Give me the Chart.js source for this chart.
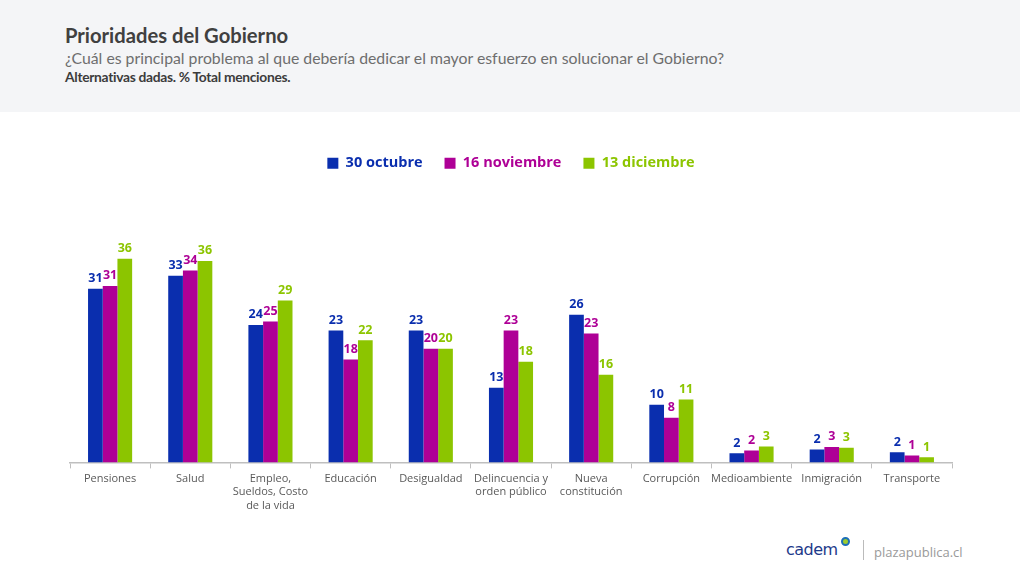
<!DOCTYPE html>
<html>
<head>
<meta charset="utf-8">
<script src="https://cdn.jsdelivr.net/npm/chart.js@4.4.0/dist/chart.umd.min.js"></script>
<style>
  html, body { margin:0; padding:0; background:#fff; }
  body { width:1020px; height:572px; position:relative; overflow:hidden; font-family:"Open Sans", "Noto Sans", sans-serif; }
  .head { position:absolute; left:0; top:0; width:1020px; height:112px; background:#f4f5f7; font-family:Lato, "Open Sans", sans-serif; }
  .title { position:absolute; left:65px; top:23px; font-size:20.2px; font-weight:bold; color:#404040; }
  .sub { position:absolute; left:65px; top:48px; font-size:15.8px; color:#6e6e6e; }
  .note { position:absolute; left:65px; top:68px; font-size:13.8px; font-weight:bold; color:#3c3c3c; letter-spacing:-0.3px; }
  .wrap { position:absolute; left:0; top:130px; width:1020px; height:400px; }
  .foot { position:absolute; top:540px; left:786px; font-family:"DejaVu Sans", sans-serif; }
  .logo { position:absolute; left:0; top:0; font-size:16px; color:#1d3a8a; letter-spacing:-0.5px; }
  .dot { position:absolute; left:55px; top:-3px; width:9px; height:9px; border-radius:50%; border:2px solid #1d6fb8; background:#9ccc2e; box-sizing:border-box; }
  .sep { position:absolute; left:77px; top:0px; width:1px; height:20px; background:#bbb; }
  .site { position:absolute; left:88px; top:3px; font-size:13px; color:#9a9a9a; font-family:"Open Sans", sans-serif; }
</style>
</head>
<body>
<div class="head">
  <div class="title">Prioridades del Gobierno</div>
  <div class="sub">¿Cuál es principal problema al que debería dedicar el mayor esfuerzo en solucionar el Gobierno?</div>
  <div class="note">Alternativas dadas. % Total menciones.</div>
</div>
<div class="wrap"><canvas id="c"></canvas></div>
<div class="foot">
  <div class="logo">cadem</div><div class="dot"></div>
  <div class="sep"></div>
  <div class="site">plazapublica.cl</div>
</div>
<script>
const categories = [
  'Pensiones', 'Salud', ['Empleo,', 'Sueldos, Costo', 'de la vida'], 'Educación', 'Desigualdad',
  ['Delincuencia y', 'orden público'], ['Nueva', 'constitución'], 'Corrupción', 'Medioambiente', 'Inmigración', 'Transporte'
];
const seriesNames = ['30 octubre', '16 noviembre', '13 diciembre'];
const seriesColors = ['#0a2eae', '#ae0096', '#8cc500'];
// bar heights; labels show the rounded value
const octubre   = [30.7, 33.0, 24.3, 23.3, 23.3, 13.2, 26.1, 10.2, 1.6, 2.3, 1.8];
const noviembre = [31.2, 33.9, 24.9, 18.2, 20.1, 23.3, 22.8, 7.9, 2.1, 2.7, 1.2];
const diciembre = [36.0, 35.6, 28.6, 21.6, 20.1, 17.8, 15.5, 11.1, 2.8, 2.6, 0.9];

const valueLabels = {
  id: 'valueLabels',
  afterDatasetsDraw(chart){
    const ctx = chart.ctx;
    ctx.save();
    ctx.font = 'bold 12.5px "Open Sans", sans-serif';
    ctx.textAlign = 'center';
    ctx.textBaseline = 'bottom';
    chart.data.datasets.forEach((ds, i) => {
      ctx.fillStyle = ds.backgroundColor;
      chart.getDatasetMeta(i).data.forEach((bar, j) => {
        ctx.fillText(Math.round(ds.data[j]), bar.x, bar.y - 4);
      });
    });
    ctx.restore();
  }
};

// extra space under the legend
const legendMargin = {
  id: 'legendMargin',
  beforeInit(chart){
    const fit = chart.legend.fit;
    chart.legend.fit = function(){ fit.bind(chart.legend)(); this.height += 16; };
  }
};

new Chart(document.getElementById('c'), {
  type: 'bar',
  data: {
    labels: categories,
    datasets: [octubre, noviembre, diciembre].map((d, i) => ({
      label: seriesNames[i],
      data: d,
      backgroundColor: seriesColors[i],
      barPercentage: 1,
      categoryPercentage: 0.55
    }))
  },
  options: {
    responsive: true,
    maintainAspectRatio: false,
    animation: false,
    layout: { padding: { left: 70, right: 68, top: 4, bottom: 14 } },
    plugins: {
      tooltip: { enabled: false },
      legend: {
        position: 'top',
        labels: {
          boxWidth: 11, boxHeight: 11, padding: 22,
          font: { size: 14.5, weight: 'bold', family: '"Open Sans", sans-serif' },
          generateLabels(chart){
            return chart.data.datasets.map((ds, i) => ({
              text: ds.label, fillStyle: ds.backgroundColor, strokeStyle: ds.backgroundColor,
              lineWidth: 0, fontColor: ds.backgroundColor, datasetIndex: i, hidden: false
            }));
          }
        }
      }
    },
    scales: {
      x: {
        grid: { drawOnChartArea: false, drawTicks: true, tickLength: 6, color: '#bfbfbf', offset: true },
        border: { color: '#bfbfbf', width: 1.5 },
        ticks: { color: '#595959', font: { size: 11, family: '"Open Sans", sans-serif' }, maxRotation: 0, autoSkip: false, padding: 4 }
      },
      y: { display: false, min: 0, max: 47 }
    }
  },
  plugins: [valueLabels, legendMargin]
});
</script>
</body>
</html>
